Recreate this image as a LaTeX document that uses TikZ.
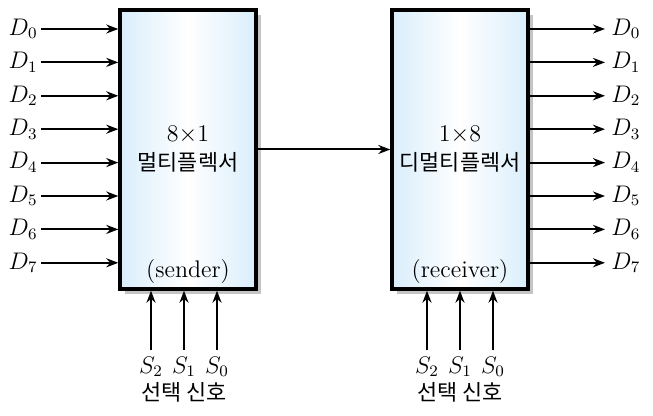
\documentclass[tikz,border=0pt]{standalone}
\usepackage{fontspec}
\newfontfamily\kor{Noto Sans CJK KR}[Scale=0.91]
\usetikzlibrary{arrows.meta,positioning,shadows}
\definecolor{muxblue}{HTML}{D9EEFB}
\definecolor{muxshadow}{HTML}{C4C4C4}

\begin{document}
\begin{tikzpicture}[x=0.5pt,y=-0.5pt,font=\fontsize{12}{14.5}\selectfont,
  sig/.style={-{Stealth[length=6pt,width=4.5pt]},line width=1pt},
  lbl/.style={inner sep=1pt},
  blk/.style={draw,line width=1.7pt,minimum width=68pt,minimum height=139.5pt,
    left color=muxblue,right color=muxblue,middle color=white,
    drop shadow={shadow xshift=2.5pt,shadow yshift=-2.5pt,fill=muxshadow,opacity=1}}]
  \useasboundingbox (0,0) rectangle (653,416);
  % the two blocks
  \node[blk] (mux) at (188,149.5) {};
  \node[blk] (demux) at (460,149.5) {};
  \node[align=center] (muxname) at (mux.center) {$8{\times}1$\\{\kor 멀티플렉서}};
  \node[align=center] (demuxname) at (demux.center) {$1{\times}8$\\{\kor 디멀티플렉서}};
  \node[above=0pt of mux.south] (muxrole) {(sender)};
  \node[above=0pt of demux.south] (demuxrole) {(receiver)};
  \draw[sig] (mux.east) -- (demux.west);
  % data lines
  \foreach \i in {0,...,7} {
    \coordinate (in\i) at (41,29+33.4*\i);
    \node[lbl,left=0.5pt of in\i] (din\i) {$D_{\i}$};
    \draw[sig] (in\i) -- (in\i -| mux.west);
    \coordinate (out\i) at (605,29+33.4*\i);
    \node[lbl,right=2pt of out\i] (dout\i) {$D_{\i}$};
    \draw[sig] (out\i -| demux.east) -- (out\i);
  }
  % select lines
  \foreach \x/\s in {151/2,184/1,217/0} {
    \node (msel\s) at (\x,367) {$S_{\s}$};
    \draw[sig] (msel\s.north) -- (msel\s.north |- mux.south);
  }
  \foreach \x/\s in {427/2,460/1,493/0} {
    \node (dsel\s) at (\x,367) {$S_{\s}$};
    \draw[sig] (dsel\s.north) -- (dsel\s.north |- demux.south);
  }
  \node (msig) at (184,392) {\kor 선택 신호};
  \node (dsig) at (460,392) {\kor 선택 신호};
\end{tikzpicture}
\end{document}
